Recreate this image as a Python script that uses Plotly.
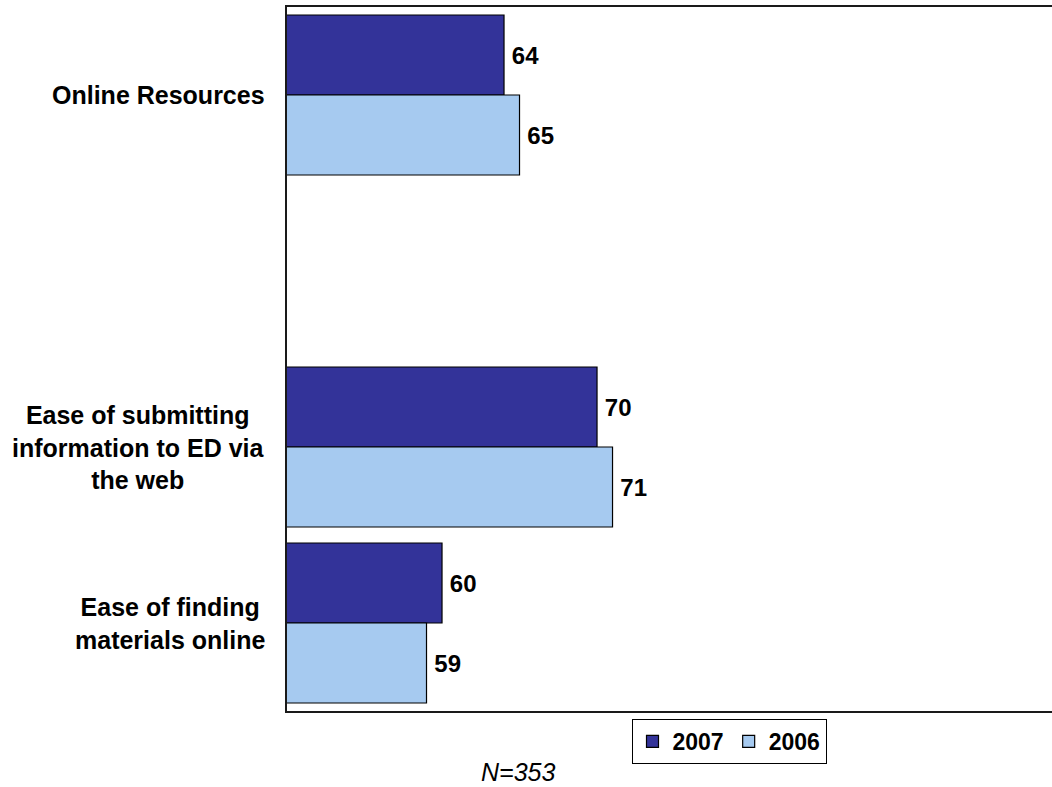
import plotly.graph_objects as go

categories = ["Online Resources", " ", "Ease of submitting<br>information to ED via<br>the web",
              "Ease of finding<br>materials online"]
series_names = ["2007", "2006"]
values_2007 = [64, None, 70, 60]
values_2006 = [65, None, 71, 59]
colors = ["#333399", "#A6CAF0"]
note_text = "N=353"

FONT = "Arial, Liberation Sans, sans-serif"

fig = go.Figure()
for name, vals, col in zip(series_names, [values_2007, values_2006], colors):
    fig.add_trace(go.Bar(
        y=categories, x=vals, name=name, orientation="h",
        marker=dict(color=col, line=dict(color="#000000", width=1.2)),
        text=[("" if v is None else "\u2009" + str(v)) for v in vals],
        textposition="outside",
        textfont=dict(family=FONT, size=24, color="#000000", weight="bold"),
        cliponaxis=False,
    ))

# category labels as centered multi-line annotations
for c in categories:
    if c.strip():
        fig.add_annotation(
            xref="paper", yref="y", x=-20 / 765, y=c, text="<b>" + c + "</b>",
            showarrow=False, xanchor="right", yanchor="middle", align="center",
            font=dict(family=FONT, size=25, color="#000000"),
        )

fig.add_annotation(
    xref="paper", yref="paper", x=(518 - 287) / 765, y=-(772 - 711) / 704,
    text="<i>" + note_text + "</i>", showarrow=False,
    xanchor="center", yanchor="middle",
    font=dict(family=FONT, size=25, color="#000000"),
)

fig.update_layout(
    width=1052, height=787,
    margin=dict(l=287, r=0, t=7, b=76),
    paper_bgcolor="white", plot_bgcolor="white",
    barmode="group", bargap=16 / 176, bargroupgap=0,
    showlegend=True,
    legend=dict(
        orientation="h", x=(729 - 287) / 765, xanchor="center",
        y=-(719 - 711) / 704, yanchor="top",
        bordercolor="#000000", borderwidth=1, bgcolor="white",
        font=dict(family=FONT, size=23, color="#000000", weight="bold"),
        itemwidth=30, tracegroupgap=0,
    ),
    xaxis=dict(range=[50, 99.35], showticklabels=False, showgrid=False, zeroline=False,
               ticks="", showline=True, mirror=True, linecolor="#1a1a1a", linewidth=1.5),
    yaxis=dict(type="category", categoryorder="array", categoryarray=categories,
               range=[3.5, -0.5], showticklabels=False, showgrid=False, zeroline=False,
               ticks="", showline=True, linecolor="#1a1a1a", linewidth=1.5),
)

fig.write_html("out.html")
